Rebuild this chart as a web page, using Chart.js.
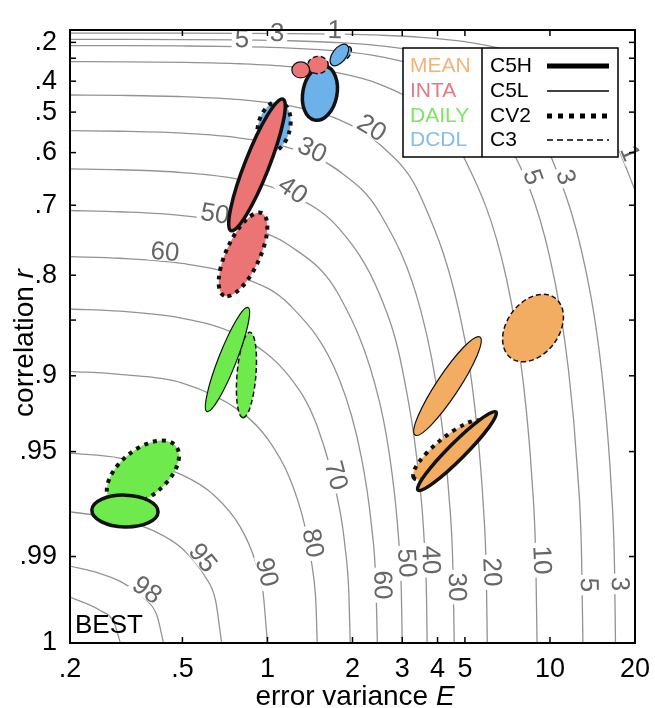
<!DOCTYPE html>
<html>
<head>
  <meta charset="utf-8">
  <title>Skill score diagram</title>
  <style>
    body {
      margin: 0;
      background: #fff;
    }
  </style>
  <script src="https://cdn.jsdelivr.net/npm/chart.js"></script>
</head>
<body>
  <canvas id="chart" width="655" height="708"></canvas>

  <script>
    // Axis ticks: x is error variance E (log), y is correlation r.
    var xTicks = [0.2, 0.5, 1, 2, 3, 4, 5, 10, 20];
    var xTickLabels = ['.2', '.5', '1', '2', '3', '4', '5', '10', '20'];
    var yTicks = [0.2, 0.4, 0.5, 0.6, 0.7, 0.8, 0.9, 0.95, 0.99, 1];
    var yTickLabels = ['.2', '.4', '.5', '.6', '.7', '.8', '.9', '.95', '.99', '1'];
    var yMinorTicks = [0.3, 0.85];

    // Skill contours as (E, r) pairs.
    var contourLevels = [1, 3, 5, 10, 20, 30, 40, 50, 60, 70, 80, 90, 95, 98, 99];
    var contourE = [
      [0.2, 0.3, 0.5, 0.8, 1.2, 1.8, 2.5, 3.5, 5, 7, 10, 14, 17, 20],
      [0.2, 0.3, 0.5, 0.8, 1.2, 1.8, 2.5, 3.5, 5, 7, 10, 14, 15.6, 16.49, 16.92, 17.06],
      [0.2, 0.3, 0.5, 0.8, 1.2, 1.8, 2.5, 3.5, 5, 7, 10, 11.64, 12.52, 12.94, 13.08],
      [0.2, 0.3, 0.5, 0.8, 1.2, 1.8, 2.5, 3.5, 5, 7, 8.062, 8.637, 8.911, 9],
      [0.2, 0.3, 0.5, 0.8, 1.2, 1.8, 2.5, 3.5, 5, 5.523, 5.814, 5.954, 6],
      [0.2, 0.3, 0.5, 0.8, 1.2, 1.8, 2.5, 3.5, 4.077, 4.388, 4.535, 4.583],
      [0.2, 0.3, 0.5, 0.8, 1.2, 1.8, 2.5, 3, 3.5, 3.588, 3.657, 3.674],
      [0.2, 0.3, 0.5, 0.8, 1.2, 1.8, 2.5, 2.761, 2.907, 2.977, 3],
      [0.2, 0.3, 0.5, 0.8, 1.2, 1.8, 2.149, 2.334, 2.421, 2.449],
      [0.2, 0.3, 0.5, 0.8, 1.2, 1.5, 1.8, 1.884, 1.94, 1.964],
      [0.2, 0.3, 0.5, 0.8, 1.0, 1.2, 1.358, 1.445, 1.486, 1.5],
      [0.2, 0.3, 0.5, 0.65, 0.8, 0.9055, 0.9633, 1.0],
      [0.2, 0.3, 0.4, 0.5, 0.6015, 0.6552, 0.6882],
      [0.2, 0.25, 0.3, 0.37, 0.406, 0.4286],
      [0.2, 0.256, 0.2863, 0.3015]
    ];
    var contourR = [
      [0.1002, 0.1005, 0.1014, 0.1035, 0.1077, 0.1166, 0.1302, 0.1537, 0.1944, 0.2539, 0.348, 0.4773, 0.5754, 0.6741],
      [0.1736, 0.1741, 0.1756, 0.1793, 0.1866, 0.2020, 0.2255, 0.2662, 0.3367, 0.4397, 0.6028, 0.8267, 0.9175, 0.9678, 0.992, 1],
      [0.2241, 0.2247, 0.2267, 0.2314, 0.2408, 0.2608, 0.2911, 0.3436, 0.4346, 0.5677, 0.7782, 0.896, 0.960, 0.990, 1],
      [0.3169, 0.3178, 0.3206, 0.3273, 0.3406, 0.3688, 0.4116, 0.4859, 0.6146, 0.8028, 0.9068, 0.9638, 0.9911, 1],
      [0.4482, 0.4494, 0.4534, 0.4628, 0.4817, 0.5215, 0.5821, 0.6872, 0.8692, 0.9369, 0.9753, 0.9939, 1],
      [0.5489, 0.5505, 0.5553, 0.5669, 0.5899, 0.6388, 0.7130, 0.8416, 0.9242, 0.9704, 0.9927, 1],
      [0.6339, 0.6356, 0.6412, 0.6546, 0.6812, 0.7376, 0.8233, 0.8944, 0.9718, 0.986, 0.9972, 1],
      [0.7087, 0.7107, 0.7169, 0.7318, 0.7616, 0.8246, 0.9205, 0.9611, 0.9846, 0.9962, 1],
      [0.7763, 0.7785, 0.7853, 0.8017, 0.8343, 0.9033, 0.9529, 0.9814, 0.9954, 1],
      [0.8385, 0.8408, 0.8482, 0.8659, 0.9011, 0.9354, 0.9757, 0.9879, 0.9964, 1],
      [0.8964, 0.8989, 0.9056, 0.9257, 0.9428, 0.9633, 0.9818, 0.9928, 0.9982, 1],
      [0.9508, 0.9534, 0.9618, 0.9707, 0.9818, 0.991, 0.9964, 1],
      [0.9768, 0.9795, 0.9833, 0.9881, 0.9941, 0.9976, 1],
      [0.9921, 0.9934, 0.9949, 0.99745, 0.99898, 1],
      [0.9972, 0.9986, 0.99944, 1]
    ];

    // Contour labels (text, E, r).
    var labelText = ['5', '3', '1', '20', '30', '40', '50', '60', '70', '80', '90', '95', '98',
                     '60', '50', '40', '30', '20', '10', '5', '3', '5', '3', '1'];
    var labelE = [0.813, 1.081, 1.73, 2.34, 1.44, 1.23, 0.652, 0.434, 1.75, 1.45, 0.996, 0.591, 0.375,
                  2.56, 3.12, 3.79, 4.69, 6.24, 9.37, 13.74, 17.7, 8.71, 11.39, 19.2];
    var labelR = [0.171, 0.099, 0, 0.542, 0.594, 0.674, 0.714, 0.770, 0.962, 0.9866, 0.9933, 0.9903, 0.99625,
                  0.99551, 0.99145, 0.99079, 0.99582, 0.9933, 0.99079, 0.99551, 0.99535, 0.6497, 0.6497, 0.601];

    // Uncertainty ellipses: two tips of the long axis (E, r) and the width ratio.
    var ellGroup = ['DCDL', 'INTA', 'DAILY', 'MEAN', 'DCDL', 'INTA', 'INTA', 'DCDL', 'DCDL',
                    'DAILY', 'DAILY', 'MEAN', 'MEAN', 'INTA', 'DAILY', 'MEAN'];
    var ellStyle = ['CV2', 'CV2', 'CV2', 'CV2', 'C5H', 'C3', 'C5L', 'C3', 'C5L',
                    'C3', 'C5L', 'C3', 'C5L', 'C5H', 'C5H', 'C5H'];
    var ellE1 = [1.108, 0.956, 0.474, 5.75, 1.60, 1.39, 1.22, 1.806, 1.69, 0.867, 0.853, 10.42, 5.65, 1.135, 0.239, 6.44];
    var ellR1 = [0.470, 0.713, 0.947, 0.9327, 0.338, 0.338, 0.355, 0.309, 0.333, 0.862, 0.837, 0.8266, 0.8665, 0.461, 0.9762, 0.9263];
    var ellE2 = [1.004, 0.702, 0.277, 3.30, 1.47, 1.64, 1.41, 1.96, 1.91, 0.819, 0.611, 7.28, 3.33, 0.743, 0.410, 3.41];
    var ellR2 = [0.599, 0.824, 0.9724, 0.9631, 0.522, 0.328, 0.355, 0.234, 0.220, 0.930, 0.926, 0.8854, 0.9407, 0.740, 0.9769, 0.9684];
    var ellWidth = [0.62, 0.37, 0.55, 0.28, 0.62, 0.85, 0.9, 0.6, 0.55, 0.22, 0.16, 0.7, 0.19, 0.17, 0.48, 0.15];

    var groupNames = ['MEAN', 'INTA', 'DAILY', 'DCDL'];
    var styleNames = ['C5H', 'C5L', 'CV2', 'C3'];

    var groupFill = { MEAN: '#f2ad63', INTA: '#eb7575', DAILY: '#6fea4c', DCDL: '#6cb1ea' };
    var groupText = { MEAN: '#f0b679', INTA: '#e17b86', DAILY: '#7fe268', DCDL: '#86bde9' };
    var lineStyles = {
      C5H: { w: 3.5, dash: [] },
      C5L: { w: 1.2, dash: [] },
      CV2: { w: 4, dash: [4, 5] },
      C3: { w: 1.5, dash: [5, 3] }
    };
    var legendStyles = {
      C5H: { w: 5, dash: [] },
      C5L: { w: 1.5, dash: [] },
      CV2: { w: 5, dash: [5, 6] },
      C3: { w: 1.3, dash: [6, 4] }
    };

    var FONT = '"Liberation Sans", Arial, Helvetica, sans-serif';

    // the vertical axis is linear in sqrt(1 - r^2)
    function toS(r) {
      return Math.sqrt(Math.max(0, 1 - r * r));
    }

    var contourSets = contourLevels.map(function (lev, i) {
      return {
        label: 'skill ' + lev,
        data: contourE[i].map(function (e, j) {
          return { x: e, y: toS(contourR[i][j]) };
        }),
        showLine: true,
        pointRadius: 0,
        borderColor: '#939393',
        borderWidth: 1.3,
        cubicInterpolationMode: 'monotone',
        fill: false
      };
    });

    function line(ctx, x1, y1, x2, y2) {
      ctx.beginPath();
      ctx.moveTo(x1, y1);
      ctx.lineTo(x2, y2);
      ctx.stroke();
    }

    var overlay = {
      id: 'overlay',
      beforeDraw: function (chart) {
        var c = chart.ctx;
        c.save();
        c.fillStyle = '#fff';
        c.fillRect(0, 0, chart.width, chart.height);
        c.restore();
      },
      afterDatasetsDraw: function (chart) {
        var ctx = chart.ctx;
        var xs = chart.scales.x, ys = chart.scales.y, a = chart.chartArea;
        function px(e) { return xs.getPixelForValue(e); }
        function py(r) { return ys.getPixelForValue(toS(r)); }

        // contour labels, turned along their line
        ctx.save();
        ctx.font = '26px ' + FONT;
        ctx.textAlign = 'center';
        ctx.textBaseline = 'middle';
        labelText.forEach(function (t, i) {
          var x = px(labelE[i]), y = py(labelR[i]);
          var k = contourLevels.indexOf(Number(t));
          var ang = 0, bd = 1e12;
          for (var j = 0; j < contourE[k].length - 1; j++) {
            var x1 = px(contourE[k][j]), y1 = py(contourR[k][j]);
            var x2 = px(contourE[k][j + 1]), y2 = py(contourR[k][j + 1]);
            var dx = x2 - x1, dy = y2 - y1, L = dx * dx + dy * dy;
            var tt = L ? ((x - x1) * dx + (y - y1) * dy) / L : 0;
            tt = Math.max(0, Math.min(1, tt));
            var qx = x1 + tt * dx, qy = y1 + tt * dy;
            var d = (x - qx) * (x - qx) + (y - qy) * (y - qy);
            if (d < bd) { bd = d; ang = Math.atan2(dy, dx); }
          }
          if (ang > Math.PI / 2) ang -= Math.PI;
          if (ang < -Math.PI / 2) ang += Math.PI;
          var w = ctx.measureText(t).width;
          ctx.save();
          ctx.translate(x, y);
          ctx.rotate(ang);
          ctx.fillStyle = '#fff';
          ctx.fillRect(-w / 2 - 3, -9, w + 6, 18);
          ctx.fillStyle = '#666';
          ctx.fillText(t, 0, 1);
          ctx.restore();
        });
        ctx.restore();

        // ellipses
        ctx.save();
        for (var i = 0; i < ellGroup.length; i++) {
          var x1 = px(ellE1[i]), y1 = py(ellR1[i]), x2 = px(ellE2[i]), y2 = py(ellR2[i]);
          var cx = (x1 + x2) / 2, cy = (y1 + y2) / 2;
          var ra = Math.hypot(x2 - x1, y2 - y1) / 2;
          var rb = ra * ellWidth[i];
          ctx.beginPath();
          ctx.ellipse(cx, cy, ra, rb, Math.atan2(y2 - y1, x2 - x1), 0, Math.PI * 2);
          ctx.fillStyle = groupFill[ellGroup[i]];
          ctx.fill();
          var st = lineStyles[ellStyle[i]];
          ctx.lineWidth = st.w;
          ctx.setLineDash(st.dash);
          ctx.strokeStyle = '#111';
          ctx.stroke();
        }
        ctx.restore();

        // frame with inward ticks
        ctx.save();
        ctx.strokeStyle = '#000';
        ctx.lineWidth = 2;
        ctx.strokeRect(a.left, a.top, a.right - a.left, a.bottom - a.top);
        ctx.lineWidth = 1.5;
        xTicks.forEach(function (v) {
          var x = px(v);
          line(ctx, x, a.bottom, x, a.bottom - 6);
          line(ctx, x, a.top, x, a.top + 6);
        });
        yTicks.concat(yMinorTicks).forEach(function (r) {
          var y = py(r);
          line(ctx, a.left, y, a.left + 6, y);
          line(ctx, a.right, y, a.right - 6, y);
        });

        // BEST corner note
        ctx.fillStyle = '#000';
        ctx.font = '26px ' + FONT;
        ctx.textAlign = 'left';
        ctx.textBaseline = 'alphabetic';
        ctx.fillText('BEST', 75, 633);

        // axis titles with italic symbols
        var t1 = 'error variance ';
        ctx.font = '28px ' + FONT;
        var w1 = ctx.measureText(t1).width;
        ctx.font = 'italic 28px ' + FONT;
        var w2 = ctx.measureText('E').width;
        var sx = 355 - (w1 + w2) / 2;
        ctx.font = '28px ' + FONT;
        ctx.fillText(t1, sx, 705);
        ctx.font = 'italic 28px ' + FONT;
        ctx.fillText('E', sx + w1, 705);

        ctx.save();
        ctx.translate(33, 343);
        ctx.rotate(-Math.PI / 2);
        var t2 = 'correlation ';
        ctx.font = '28px ' + FONT;
        var v1 = ctx.measureText(t2).width;
        ctx.font = 'italic 28px ' + FONT;
        var v2 = ctx.measureText('r').width;
        var sy = -(v1 + v2) / 2;
        ctx.font = '28px ' + FONT;
        ctx.fillText(t2, sy, 0);
        ctx.font = 'italic 28px ' + FONT;
        ctx.fillText('r', sy + v1, 0);
        ctx.restore();

        // legend box
        var bx = 403, by = 48, bw = 215, bh = 109, div = 482;
        ctx.fillStyle = '#fff';
        ctx.fillRect(bx, by, bw, bh);
        ctx.lineWidth = 1.5;
        ctx.strokeStyle = '#000';
        ctx.strokeRect(bx, by, bw, bh);
        line(ctx, div, by, div, by + bh);
        ctx.font = '21px ' + FONT;
        ctx.textBaseline = 'middle';
        var rowY = [66, 91, 116, 140];
        groupNames.forEach(function (g, i) {
          ctx.fillStyle = groupText[g];
          ctx.fillText(g, 410, rowY[i]);
        });
        styleNames.forEach(function (s, i) {
          ctx.fillStyle = '#000';
          ctx.fillText(s, 490, rowY[i]);
          var ls = legendStyles[s];
          ctx.lineWidth = ls.w;
          ctx.setLineDash(ls.dash);
          line(ctx, 547, rowY[i], 609, rowY[i]);
          ctx.setLineDash([]);
        });
        ctx.restore();
      }
    };

    var chart = new Chart(document.getElementById('chart').getContext('2d'), {
      type: 'scatter',
      data: { datasets: contourSets },
      options: {
        responsive: false,
        animation: false,
        layout: { padding: { top: 30, right: 20, left: 0, bottom: 0 } },
        plugins: {
          legend: { display: false },
          tooltip: { enabled: false }
        },
        scales: {
          x: {
            type: 'logarithmic',
            min: 0.2,
            max: 20,
            position: 'bottom',
            grid: { display: false },
            border: { display: false },
            afterBuildTicks: function (s) {
              s.ticks = xTicks.map(function (v) { return { value: v }; });
            },
            afterFit: function (s) { s.height = 65; },
            ticks: {
              autoSkip: false,
              maxRotation: 0,
              color: '#000',
              padding: 2,
              font: { family: FONT, size: 27 },
              callback: function (v) {
                var i = xTicks.indexOf(v);
                return i >= 0 ? xTickLabels[i] : '';
              }
            }
          },
          y: {
            type: 'linear',
            min: 0,
            max: 1,
            grid: { display: false },
            border: { display: false },
            afterBuildTicks: function (s) {
              s.ticks = yTicks.map(function (r) { return { value: toS(r) }; });
            },
            afterFit: function (s) { s.width = 70; },
            ticks: {
              autoSkip: false,
              color: '#000',
              padding: 5,
              font: { family: FONT, size: 27 },
              callback: function (v) {
                for (var i = 0; i < yTicks.length; i++) {
                  if (Math.abs(toS(yTicks[i]) - v) < 1e-9) return yTickLabels[i];
                }
                return '';
              }
            }
          }
        }
      },
      plugins: [overlay]
    });
  </script>
</body>
</html>
